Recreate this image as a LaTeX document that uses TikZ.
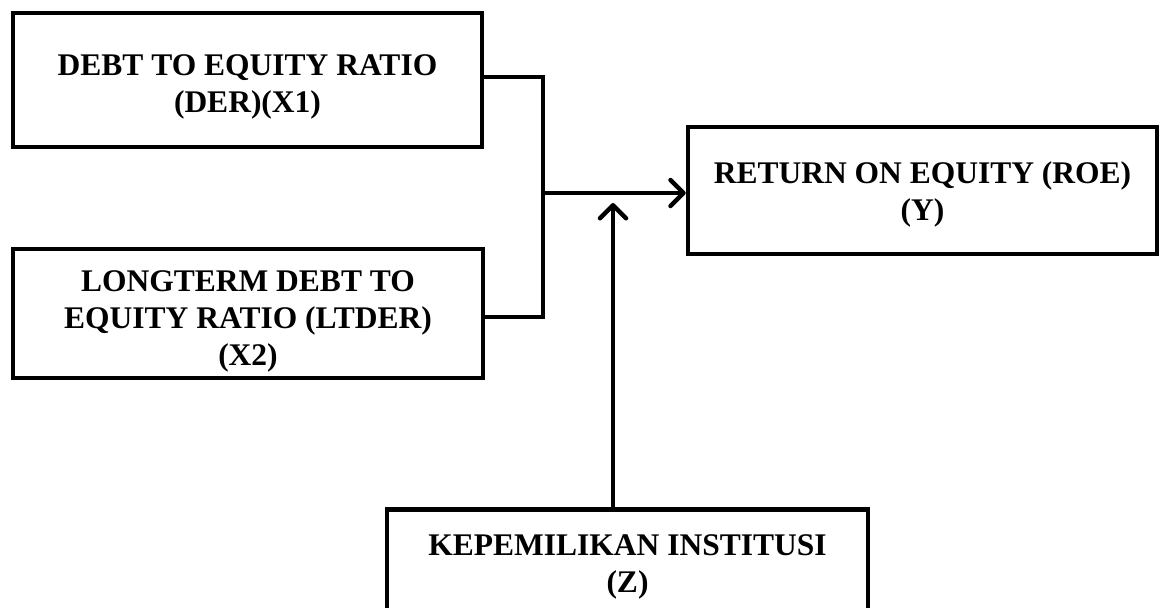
\documentclass[tikz,border=0pt]{standalone}
\usepackage{fontspec}
\setmainfont{Liberation Serif}
\usetikzlibrary{arrows.meta}
\tikzset{
  x=1pt, y=-1pt,
  box/.style={draw=black, line width=4.5pt, rectangle, inner sep=0pt},
  lbl/.style={align=center, inner sep=0pt, font=\fontsize{31.5}{37}\selectfont\bfseries},
  conn/.style={draw=black, line width=4.5pt, line join=miter},
  arr/.style={conn, -{Straight Barb[length=13pt,width=26pt,round]}},
}
\begin{document}
\begin{tikzpicture}
\useasboundingbox (0,0) rectangle (1163,608);
\clip (0,0) rectangle (1163,608);
\node[box, minimum width=469, minimum height=134] (B1) at (247.5,80) {};
\node[lbl] (B1t) at (247.5,87) {DEBT TO EQUITY RATIO\\(DER)(X1)};
\node[box, minimum width=470, minimum height=129] (B2) at (248,313.5) {};
\node[lbl] (B2t) at (248,321) {LONGTERM DEBT TO\\EQUITY RATIO (LTDER)\\(X2)};
\node[box, minimum width=469, minimum height=127] (Y) at (922.5,190.5) {};
\node[lbl] (Yt) at (922.5,194) {RETURN ON EQUITY (ROE)\\(Y)};
\node[box, minimum width=481, minimum height=150, anchor=north] (Z) at (627.5,507) {};
\node[lbl] (Zt) at (627.5,566.5) {KEPEMILIKAN INSTITUSI\\(Z)};
\coordinate (j1) at (543,77);
\coordinate (j2) at (543,317);
\coordinate (jm) at (543,193);
\coordinate (zt) at (613,203);
\draw[conn] (B1.east |- j1) -- (j1) -- (j2) -- (B2.east |- j2);
\draw[arr] (jm) -- (Y.west |- jm);
\draw[arr] (zt |- Z.north) -- (zt);
\end{tikzpicture}
\end{document}
